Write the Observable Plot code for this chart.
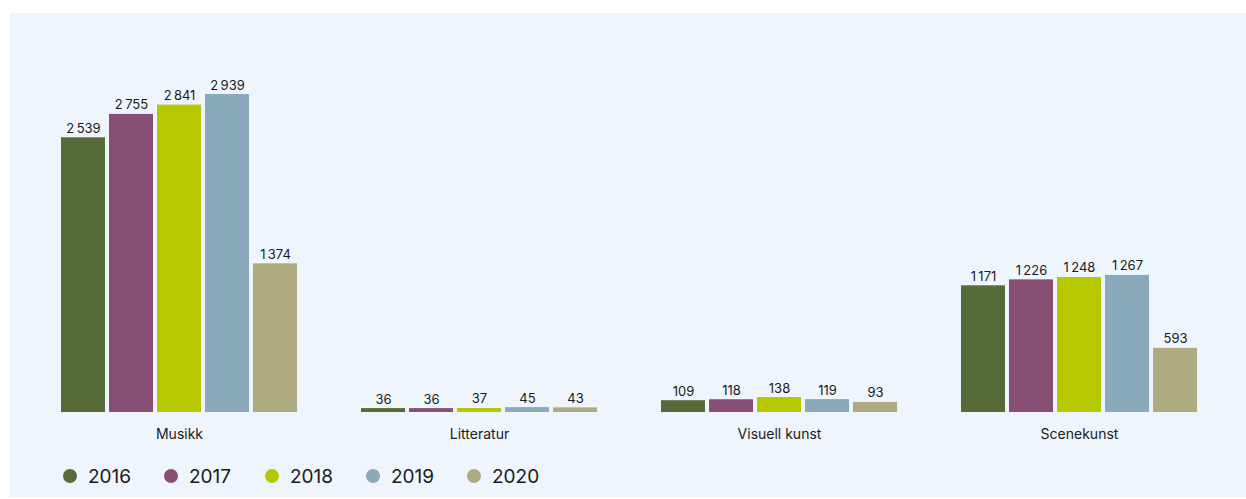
<!DOCTYPE html>
<html>
<head>
<meta charset="utf-8">
<script src="https://cdn.jsdelivr.net/npm/d3@7"></script>
<script src="https://cdn.jsdelivr.net/npm/@observablehq/plot@0.6"></script>
<style>
  html, body { margin: 0; padding: 0; background: #ffffff; }
  #panel { position: absolute; left: 10px; top: 13px; width: 1236px; height: 484px; background: #eef5fc; font-family: Inter, "Liberation Sans", sans-serif; color: #1a1a1a; }
  #legend { display: flex; align-items: center; height: 46px; padding-left: 53px; font-size: 19px; }
  .item { display: flex; align-items: center; width: 101px; }
  .dot { width: 14px; height: 14px; border-radius: 50%; margin-right: 11px; }
</style>
</head>
<body>
<div id="panel"><div id="chart"></div><div id="legend"></div></div>
<script>
const categories = ["Musikk", "Litteratur", "Visuell kunst", "Scenekunst"];
const years = ["2016", "2017", "2018", "2019", "2020"];
const colors = ["#566b37", "#884f74", "#b5c800", "#8aa9ba", "#aeab80"];
const musikk = [2539, 2755, 2841, 2939, 1374];
const litteratur = [36, 36, 37, 45, 43];
const visuellKunst = [109, 118, 138, 119, 93];
const scenekunst = [1171, 1226, 1248, 1267, 593];

const series = [musikk, litteratur, visuellKunst, scenekunst];
const data = [];
categories.forEach((c, i) => years.forEach((y, j) => data.push({category: c, year: y, value: series[i][j]})));

const fmt = d3.formatLocale({decimal: ",", thousands: "\u2009", grouping: [3], currency: ["", ""]}).format(",d");

const chart = Plot.plot({
  width: 1236,
  height: 440,
  marginTop: 74.4,
  marginBottom: 41,
  marginLeft: 21,
  marginRight: 19,
  style: {background: "transparent", fontFamily: "Inter, 'Liberation Sans', sans-serif", color: "#1a1a1a"},
  fx: {domain: categories, paddingInner: 0.2133, paddingOuter: 0.1, round: false, label: null},
  x: {domain: years, paddingInner: 0.0833, paddingOuter: 0, round: false, axis: null},
  y: {domain: [0, 3000], axis: null},
  color: {domain: years, range: colors},
  marks: [
    Plot.axisFx({anchor: "bottom", tickSize: 0, tickPadding: 17, fontSize: 14, label: null}),
    Plot.barY(data, {fx: "category", x: "year", y: "value", fill: "year"}),
    Plot.text(data, {fx: "category", x: "year", y: "value", text: d => fmt(d.value), dy: -5, lineAnchor: "bottom", fontSize: 13, fill: "#1a1a1a"})
  ]
});
document.getElementById("chart").appendChild(chart);

const legend = document.getElementById("legend");
years.forEach((y, i) => {
  const item = document.createElement("div");
  item.className = "item";
  const dot = document.createElement("span");
  dot.className = "dot";
  dot.style.background = colors[i];
  const label = document.createElement("span");
  label.textContent = y;
  item.appendChild(dot);
  item.appendChild(label);
  legend.appendChild(item);
});
</script>
</body>
</html>
